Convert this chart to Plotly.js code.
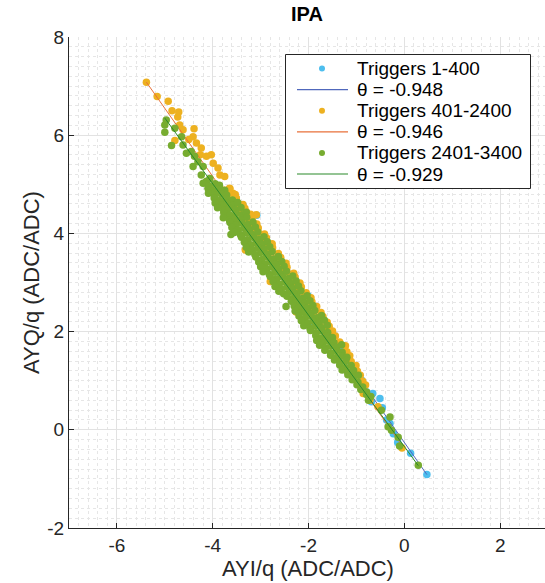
<!DOCTYPE html>
<html>
<head>
<meta charset="utf-8">
<script src="https://cdn.plot.ly/plotly-3.0.1.min.js"></script>
<style>html,body{margin:0;padding:0;background:#fff;}#chart{width:545px;height:583px;}</style>
</head>
<body>
<div id="chart"></div>
<script>
// ---- data ----
const seriesNames = ['Triggers 1-400', 'Triggers 401-2400', 'Triggers 2401-3400'];
const thetaValues = [-0.948, -0.946, -0.929];
const fitIntercepts = [-0.258, -0.387, -0.342];
const thetaLabels = ['θ = -0.948', 'θ = -0.946', 'θ = -0.929'];

const bluePts = [
  [-3.37,4.58],[-3.08,4.37],[-3.00,3.90],[-2.60,3.20],[-2.20,2.60],[-2.01,2.73],[-1.90,2.20],
  [-1.63,2.10],[-1.52,2.00],[-1.47,1.92],[-1.31,1.66],[-1.20,1.40],[-1.00,1.20],[-0.89,1.01],
  [-0.79,0.77],[-0.66,0.74],[-0.69,0.57],[-0.51,0.64],[-0.46,0.45],[-0.37,0.20],[-0.30,0.13],
  [-0.23,-0.08],[-0.14,-0.26],[0.13,-0.48],[0.47,-0.91]
];

const orangePts = [
  [-5.385,7.08],[-5.16,6.79],[-4.93,6.69],[-4.85,6.50],[-4.73,6.37],[-4.69,6.21],[-4.71,6.47],
  [-4.62,6.11],[-4.39,6.13],[-4.41,5.97],[-4.50,5.91],[-4.79,5.89],[-4.34,5.84],[-4.24,5.74],
  [-4.26,5.60],[-4.13,5.57],[-4.03,5.60],[-3.99,5.43],[-3.89,5.33],[-3.85,5.19],[-3.75,5.16],
  [-3.65,4.92],[-3.58,4.82],[-3.51,4.72],[-3.44,4.55],[-3.30,4.44],[-3.09,4.38],[-3.23,4.24],
  [-3.64,4.91],[-3.77,4.88],[-3.53,4.79],[-3.67,4.82],[-3.51,4.71],[-3.65,4.68],
  [-3.37,4.59],[-3.50,4.62],[-3.33,4.51],[-3.48,4.48],[-3.21,4.39],[-3.35,4.42],
  [-3.18,4.31],[-3.32,4.28],[-3.08,4.19],[-3.22,4.22],[-3.05,4.11],[-3.19,4.08],
  [-2.92,3.99],[-3.05,4.02],[-2.88,3.91],[-3.02,3.88],[-2.76,3.79],[-2.90,3.82],
  [-2.75,3.71],[-2.89,3.68],[-2.63,3.59],[-2.77,3.62],[-2.58,3.51],[-2.72,3.48],
  [-2.47,3.39],[-2.60,3.42],[-2.45,3.31],[-2.59,3.28],[-2.31,3.19],[-2.45,3.22],
  [-2.28,3.11],[-2.42,3.08],[-2.18,2.99],[-2.32,3.02],[-2.15,2.91],[-2.29,2.88],
  [-2.05,2.79],[-2.19,2.82],[-1.95,2.69],[-2.08,2.72],[-1.93,2.61],[-2.07,2.58],
  [-1.83,2.51],[-1.97,2.48],[-1.74,2.39],[-1.88,2.42],[-1.70,2.31],[-1.84,2.28],
  [-1.61,2.19],[-1.75,2.22],[-1.57,2.11],[-1.71,2.08],[-1.50,2.01],[-1.64,1.98],
  [-1.44,1.91],[-1.35,1.79],[-1.23,1.71],[-1.20,1.59],[-1.14,1.51],[-1.11,1.39],
  [-1.01,1.31],[-0.98,1.19],[-0.92,1.11],[-0.87,0.99],[-0.81,0.91],
  [-3.32,3.66],[-2.80,3.02],[-2.26,2.40],
  [-0.86,0.74],[-0.72,0.60],[-0.55,0.47],[-0.05,-0.37]
];

const greenPts = [
  [-4.97,6.31],[-5.00,6.21],[-4.79,6.14],[-5.00,6.06],[-4.65,5.97],[-4.86,5.79],[-4.62,5.80],
  [-4.55,5.63],[-4.45,5.67],[-4.38,5.57],[-4.41,5.36],[-4.31,5.46],[-4.20,5.36],[-4.24,5.19],
  [-4.13,5.06],[-4.06,5.12],[-4.03,4.89],[-3.96,4.78],[-3.85,4.89],[-3.79,4.65],[-3.68,4.51],
  [-3.71,4.38],[-3.61,4.31],[-3.51,4.24],
  [-4.20,5.02],[-4.08,4.97],[-3.95,5.01],[-3.86,4.98],
  [-4.10,4.92],[-3.98,4.87],[-3.86,4.91],[-3.75,4.88],
  [-4.09,4.82],[-3.96,4.77],[-3.83,4.81],[-3.71,4.78],
  [-3.97,4.72],[-3.85,4.67],[-3.72,4.71],[-3.59,4.68],
  [-3.95,4.62],[-3.82,4.57],[-3.70,4.61],[-3.57,4.58],[-3.48,4.63],
  [-3.90,4.52],[-3.77,4.47],[-3.65,4.51],[-3.53,4.48],[-3.41,4.53],
  [-3.77,4.42],[-3.64,4.37],[-3.51,4.41],[-3.39,4.38],[-3.30,4.43],
  [-3.78,4.32],[-3.65,4.27],[-3.53,4.31],[-3.41,4.28],[-3.29,4.33],
  [-3.64,4.22],[-3.51,4.17],[-3.39,4.21],[-3.27,4.18],[-3.16,4.23],
  [-3.60,4.12],[-3.47,4.07],[-3.35,4.11],[-3.23,4.08],[-3.11,4.13],
  [-3.62,3.98],[-3.55,4.02],[-3.42,3.97],[-3.30,4.01],[-3.18,3.98],[-3.06,4.03],
  [-3.40,3.92],[-3.27,3.87],[-3.14,3.91],[-3.02,3.88],[-2.93,3.93],
  [-3.34,3.82],[-3.21,3.77],[-3.09,3.81],[-2.97,3.78],[-2.86,3.83],
  [-3.30,3.72],[-3.17,3.67],[-3.05,3.71],[-2.93,3.68],[-2.81,3.73],
  [-3.25,3.62],[-3.12,3.57],[-3.00,3.61],[-2.88,3.58],[-2.76,3.63],
  [-3.10,3.52],[-2.97,3.47],[-2.84,3.51],[-2.72,3.48],[-2.63,3.53],
  [-3.04,3.42],[-2.91,3.37],[-2.79,3.41],[-2.67,3.38],[-2.56,3.43],
  [-3.00,3.32],[-2.87,3.27],[-2.75,3.31],[-2.63,3.28],[-2.51,3.33],
  [-2.95,3.22],[-2.82,3.17],[-2.70,3.21],[-2.58,3.18],[-2.46,3.23],
  [-2.80,3.12],[-2.67,3.07],[-2.54,3.11],[-2.42,3.08],[-2.33,3.13],
  [-2.74,3.02],[-2.61,2.97],[-2.49,3.01],[-2.37,2.98],[-2.26,3.03],
  [-2.70,2.92],[-2.57,2.87],[-2.45,2.91],[-2.33,2.88],[-2.21,2.93],
  [-2.62,2.82],[-2.52,2.77],[-2.40,2.81],[-2.28,2.78],[-2.16,2.83],
  [-2.45,2.72],[-2.35,2.67],[-2.24,2.71],[-2.12,2.68],[-2.03,2.73],
  [-2.36,2.62],[-2.28,2.57],[-2.18,2.61],[-2.08,2.58],[-1.97,2.63],
  [-2.30,2.52],[-2.21,2.47],[-2.12,2.51],[-2.02,2.48],[-1.91,2.53],
  [-2.28,2.42],[-2.19,2.37],[-2.09,2.41],[-1.99,2.38],[-1.87,2.43],
  [-2.20,2.32],[-2.07,2.27],[-1.94,2.31],[-1.82,2.28],[-1.73,2.33],
  [-2.15,2.22],[-2.02,2.17],[-1.90,2.21],[-1.78,2.18],[-1.67,2.23],
  [-2.10,2.12],[-1.97,2.07],[-1.85,2.11],[-1.73,2.08],[-1.61,2.13],
  [-1.96,2.02],[-1.84,1.97],[-1.72,2.01],[-1.60,1.98],
  [-1.85,1.92],[-1.73,1.87],[-1.61,1.91],[-1.50,1.88],
  [-1.83,1.82],[-1.71,1.77],[-1.59,1.81],[-1.47,1.78],
  [-1.77,1.72],[-1.65,1.67],[-1.53,1.71],[-1.41,1.68],[-1.31,1.73],
  [-1.66,1.62],[-1.54,1.57],[-1.42,1.61],[-1.30,1.58],
  [-1.54,1.52],[-1.42,1.47],[-1.30,1.51],[-1.20,1.48],
  [-1.46,1.42],[-1.34,1.37],[-1.22,1.41],
  [-1.35,1.32],[-1.23,1.27],[-1.11,1.31],
  [-1.30,1.22],[-1.18,1.17],[-1.06,1.21],
  [-1.18,1.12],[-1.06,1.07],[-0.96,1.11],
  [-1.09,1.02],[-0.97,0.97],[-0.99,0.92],[-0.87,0.87],
  [-0.91,0.82],[-0.79,0.77],[-0.79,0.72],[-0.70,0.68],[-0.75,0.60],
  [-2.47,2.51],
  [-0.48,0.40],[-0.30,0.26],[-0.34,0.06],[-0.27,-0.01],[-0.13,-0.15],[-0.10,-0.33],[0.29,-0.72]
];

const xTickVals = [-6, -4, -2, 0, 2];
const yTickVals = [-2, 0, 2, 4, 6, 8];

const pointColors = ['#4DBEEE', '#EDB120', '#77AC30'];
const lineColors = ['#5068BC', '#E8713A', '#2B8A2B'];

// ---- geometry helpers (layout only) ----
const W = 545, H = 583, ML = 69, MR = 0, MT = 37, MB = 55;
const pw = W - ML - MR, ph = H - MT - MB;
const px2paperX = px => (px - ML) / pw;
const py2paperY = py => (H - MB - py) / ph;
const FONT = 'Liberation Sans, Arial, Helvetica, sans-serif';

// ---- build traces ----
const allPts = [bluePts, orangePts, greenPts];
const traces = [];
allPts.forEach((pts, i) => {
  const xs = pts.map(p => p[0]);
  const ys = pts.map(p => p[1]);
  traces.push({
    type: 'scatter', mode: 'markers', name: seriesNames[i], showlegend: false,
    x: xs, y: ys,
    marker: {color: pointColors[i], size: 7.5, line: {width: 0}},
    hoverinfo: 'skip'
  });
  const m = Math.tan(thetaValues[i]);
  const lx = [Math.min(...xs), Math.max(...xs)];
  traces.push({
    type: 'scatter', mode: 'lines', name: thetaLabels[i], showlegend: false,
    x: lx, y: lx.map(v => fitIntercepts[i] + m * v),
    line: {color: lineColors[i], width: 1}
  });
});

// ---- legend drawn as shapes + text annotations ----
const shapes = [{
  type: 'rect', xref: 'paper', yref: 'paper', layer: 'above',
  x0: px2paperX(285.5), x1: px2paperX(530.5), y0: py2paperY(188.5), y1: py2paperY(54.5),
  fillcolor: '#ffffff', line: {color: '#262626', width: 1}
}];
const annotations = [];
const rowY = [68.5, 89.6, 110.7, 131.8, 152.9, 174.0];
seriesNames.forEach((name, i) => {
  const yMark = rowY[2 * i], yLine = rowY[2 * i + 1];
  shapes.push({
    type: 'circle', xref: 'paper', yref: 'paper', layer: 'above',
    xsizemode: 'pixel', ysizemode: 'pixel',
    xanchor: px2paperX(322), yanchor: py2paperY(yMark),
    x0: -3, x1: 3, y0: -3, y1: 3,
    fillcolor: pointColors[i], line: {width: 0}
  });
  shapes.push({
    type: 'line', xref: 'paper', yref: 'paper', layer: 'above',
    x0: px2paperX(297), x1: px2paperX(348), y0: py2paperY(yLine), y1: py2paperY(yLine),
    line: {color: lineColors[i], width: 1.2}
  });
  annotations.push({
    xref: 'paper', yref: 'paper', x: px2paperX(355), y: py2paperY(yMark),
    xanchor: 'left', yanchor: 'middle', showarrow: false, text: name,
    font: {family: FONT, size: 19, color: '#000'}
  });
  annotations.push({
    xref: 'paper', yref: 'paper', x: px2paperX(355), y: py2paperY(yLine),
    xanchor: 'left', yanchor: 'middle', showarrow: false, text: thetaLabels[i],
    font: {family: FONT, size: 19, color: '#000'}
  });
});

// axis titles
annotations.push({
  xref: 'paper', yref: 'paper', x: px2paperX(308), y: py2paperY(568), xanchor: 'center', yanchor: 'middle',
  showarrow: false, text: 'AYI/q (ADC/ADC)', font: {family: FONT, size: 22, color: '#262626'}
});
annotations.push({
  xref: 'paper', yref: 'paper', x: px2paperX(31), y: py2paperY(283), xanchor: 'center', yanchor: 'middle',
  textangle: -90, showarrow: false, text: 'AYQ/q (ADC/ADC)', font: {family: FONT, size: 22, color: '#262626'}
});

const tickFont = {family: FONT, size: 19, color: '#262626'};
const layout = {
  width: W, height: H,
  margin: {l: ML, r: MR, t: MT, b: MB, pad: 0},
  paper_bgcolor: '#ffffff', plot_bgcolor: '#ffffff',
  font: tickFont,
  title: {
    text: '<b>IPA</b>', xref: 'paper', x: 0.5, xanchor: 'center',
    yref: 'container', y: 1 - 14 / H, yanchor: 'middle',
    font: {family: FONT, size: 20, color: '#000'}
  },
  showlegend: false,
  shapes: shapes,
  annotations: annotations,
  xaxis: {
    range: [-7, 2.935], tickvals: xTickVals, ticktext: xTickVals.map(String),
    ticks: 'inside', ticklen: 5, tickcolor: '#262626',
    showline: true, linecolor: '#262626', linewidth: 1, mirror: false,
    zeroline: false, showgrid: true, gridcolor: '#e2e2e2', gridwidth: 1,
    minor: {dtick: 0.2, tick0: 0, showgrid: true, gridcolor: '#e6e6e6', griddash: 'dot', gridwidth: 1, ticks: ''},
    tickfont: tickFont
  },
  yaxis: {
    range: [-2, 8], tickvals: yTickVals, ticktext: yTickVals.map(String),
    ticks: 'inside', ticklen: 5, tickcolor: '#262626',
    showline: true, linecolor: '#262626', linewidth: 1, mirror: false,
    zeroline: false, showgrid: true, gridcolor: '#e2e2e2', gridwidth: 1,
    minor: {dtick: 0.2, tick0: 0, showgrid: true, gridcolor: '#e6e6e6', griddash: 'dot', gridwidth: 1, ticks: ''},
    tickfont: tickFont
  }
};

Plotly.newPlot('chart', traces, layout, {staticPlot: true, displayModeBar: false});
</script>
</body>
</html>
